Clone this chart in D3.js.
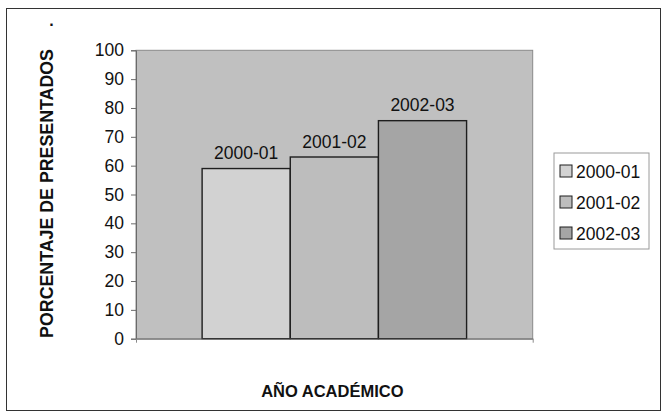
<!DOCTYPE html>
<html>
<head>
<meta charset="utf-8">
<script src="https://cdn.jsdelivr.net/npm/d3@7"></script>
<style>
  html, body { margin: 0; padding: 0; background: #fff; }
  svg { display: block; }
  text { font-family: "Liberation Sans", Arial, sans-serif; fill: #111; }
</style>
</head>
<body>
<svg id="chart" width="667" height="414"></svg>
<script>
// Academic years (one bar each) and percentage of students who sat the exam
const series = ["2000-01", "2001-02", "2002-03"];
const values = [59, 63, 75.6];
const fills = ["#d2d2d2", "#bdbdbd", "#a5a5a5"];
const yTicks = [0, 10, 20, 30, 40, 50, 60, 70, 80, 90, 100];
const chartTitle = ".";
const xTitle = "AÑO ACADÉMICO";
const yTitle = "PORCENTAJE DE PRESENTADOS";

const W = 667, H = 414;
const plot = { left: 136, top: 50.3, right: 532.7, bottom: 338.7 };

const svg = d3.select("#chart");

// Outer frame
svg.append("rect")
  .attr("x", 6.5).attr("y", 8.5)
  .attr("width", 654).attr("height", 402)
  .attr("fill", "#fff").attr("stroke", "#333").attr("stroke-width", 1);

// Scales
const y = d3.scaleLinear().domain([0, 100]).range([plot.bottom, plot.top]);
const plotW = plot.right - plot.left;
const groupW = plotW / 1.5; // 50% gap between category groups
const gx0 = plot.left + (plotW - groupW) / 2;
const x = d3.scaleBand().domain(series).range([gx0, gx0 + groupW]).padding(0);

// Plot background
svg.append("rect")
  .attr("x", plot.left).attr("y", plot.top)
  .attr("width", plotW).attr("height", plot.bottom - plot.top)
  .attr("fill", "#c0c0c0")
  .attr("stroke", "#8a8a8a").attr("stroke-width", 1);

// Bars
svg.append("g").selectAll("rect")
  .data(series)
  .join("rect")
  .attr("x", d => x(d))
  .attr("y", (d, i) => y(values[i]))
  .attr("width", x.bandwidth())
  .attr("height", (d, i) => y(0) - y(values[i]))
  .attr("fill", (d, i) => fills[i])
  .attr("stroke", "#1e1e1e").attr("stroke-width", 1.4);

// Bar labels (series names above each bar)
svg.append("g").selectAll("text")
  .data(series)
  .join("text")
  .attr("x", d => x(d) + x.bandwidth() / 2)
  .attr("y", (d, i) => y(values[i]) - 9.5)
  .attr("text-anchor", "middle")
  .attr("font-size", 17.5)
  .text(d => d);

// Y axis
const yAxis = d3.axisLeft(y).tickValues(yTicks).tickSize(5).tickPadding(7);
const gy = svg.append("g")
  .attr("transform", `translate(${plot.left},0)`)
  .call(yAxis);
gy.select(".domain").attr("stroke", "#6a6a6a");
gy.selectAll(".tick line").attr("stroke", "#6a6a6a");
gy.selectAll(".tick text")
  .attr("font-size", 17.5)
  .attr("font-family", "Liberation Sans, Arial, sans-serif")
  .attr("fill", "#111");

// X axis baseline with end ticks
const xb = d3.scaleLinear().domain([0, 1]).range([plot.left, plot.right]);
const xAxis = d3.axisBottom(xb).tickValues([0, 1]).tickSize(4).tickSizeOuter(0).tickFormat("");
const gx = svg.append("g")
  .attr("transform", `translate(0,${plot.bottom})`)
  .call(xAxis);
gx.select(".domain").attr("stroke", "#6a6a6a");
gx.selectAll(".tick line").attr("stroke", "#8a8a8a");

// Titles
svg.append("text")
  .attr("x", 51.5).attr("y", 26)
  .attr("text-anchor", "middle")
  .attr("font-size", 16).attr("font-weight", "bold")
  .text(chartTitle);

svg.append("text")
  .attr("x", (plot.left + plot.right) / 2 - 2).attr("y", 397)
  .attr("text-anchor", "middle")
  .attr("font-size", 16.5).attr("font-weight", "bold")
  .text(xTitle);

svg.append("text")
  .attr("transform", `translate(53,${(plot.top + plot.bottom) / 2 - 1}) rotate(-90)`)
  .attr("text-anchor", "middle")
  .attr("font-size", 17.8).attr("font-weight", "bold")
  .text(yTitle);

// Legend
const legend = { x: 554, y: 153, w: 95, h: 96 };
svg.append("rect")
  .attr("x", legend.x).attr("y", legend.y)
  .attr("width", legend.w).attr("height", legend.h)
  .attr("fill", "#fff").attr("stroke", "#9a9a9a").attr("stroke-width", 1);

const item = svg.append("g").selectAll("g")
  .data(series)
  .join("g")
  .attr("transform", (d, i) => `translate(${legend.x + 6},${171 + i * 31})`);
item.append("rect")
  .attr("x", 0).attr("y", -6)
  .attr("width", 12).attr("height", 12)
  .attr("fill", (d, i) => fills[i])
  .attr("stroke", "#1e1e1e").attr("stroke-width", 1);
item.append("text")
  .attr("x", 16).attr("y", 6.5)
  .attr("font-size", 17.5)
  .text(d => d);
</script>
</body>
</html>
